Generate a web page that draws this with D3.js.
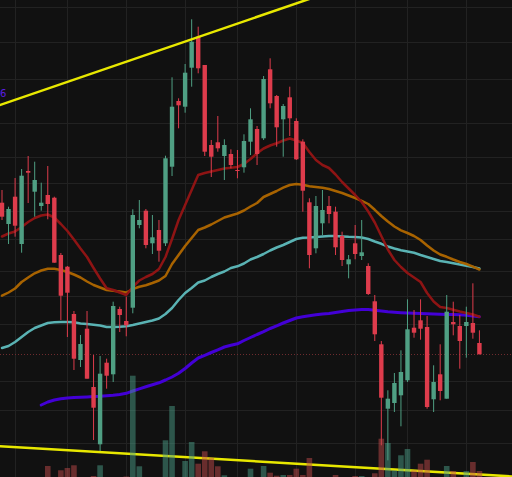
<!DOCTYPE html>
<html>
<head>
<meta charset="utf-8">
<script src="https://cdn.jsdelivr.net/npm/d3@7"></script>
<style>
  html, body { margin: 0; padding: 0; background: #111111; overflow: hidden; }
  svg { display: block; }
</style>
</head>
<body>
<div class="chart"></div>
<script>
// D3 Candlestick chart with moving averages, volume and trend lines

// Data (one entry per candle)
var opens = [29.73, 27.6, 30.33, 25.6, 32.9, 30.83, 29.4, 30.5, 30.23, 24.5, 23.33, 18.6, 14.0, 17.13, 11.3, 5.57, 13.73, 12.57, 19.1, 17.9,
  19.23, 27.5, 28.93, 25.67, 27.0, 25.67, 33.33, 39.9, 39.33, 43.23, 46.33, 43.5, 35.5, 35.77, 34.4, 34.6, 33.0, 33.27, 35.83, 37.1,
  36.17, 43.07, 40.4, 38.07, 40.27, 37.9, 35.83, 29.77, 25.17, 27.67, 29.4, 28.83, 26.4, 23.57, 25.67, 24.4, 23.4, 19.87, 15.57, 9.13,
  9.7, 10.47, 11.97, 17.23, 17.97, 17.3, 10.07, 12.57, 10.13, 17.8, 17.4, 17.4, 17.7, 15.7];
var highs = [31.0, 29.33, 32.2, 33.1, 34.4, 33.83, 31.73, 33.4, 30.33, 24.7, 23.4, 18.9, 16.5, 18.9, 14.5, 14.4, 14.13, 19.83, 19.33, 20.33,
  29.07, 30.0, 29.1, 28.5, 28.0, 34.43, 42.27, 40.17, 43.6, 48.07, 47.33, 43.5, 36.0, 38.4, 36.07, 35.07, 35.0, 36.57, 39.17, 37.4,
  42.4, 44.17, 40.5, 39.6, 41.33, 38.17, 36.07, 30.17, 30.4, 31.0, 30.4, 29.33, 26.83, 24.5, 27.5, 28.0, 23.67, 20.5, 15.9, 10.97,
  12.7, 14.97, 20.07, 19.0, 20.07, 18.4, 13.47, 15.57, 20.5, 19.83, 18.5, 19.33, 21.67, 16.97];
var lows = [28.0, 25.6, 26.33, 24.73, 29.7, 28.33, 28.93, 28.07, 23.73, 18.0, 16.3, 13.0, 13.3, 12.13, 6.0, 4.8, 11.13, 11.8, 16.8, 16.37,
  18.67, 27.17, 25.17, 24.6, 23.83, 25.4, 32.4, 37.17, 38.73, 41.33, 42.67, 34.4, 32.3, 34.83, 32.0, 33.17, 32.17, 32.73, 34.5, 33.5,
  36.0, 39.17, 35.33, 34.33, 36.4, 34.0, 28.83, 23.17, 24.67, 26.5, 27.67, 24.5, 23.4, 22.17, 24.07, 24.0, 20.5, 15.9, 5.47, 3.97,
  8.8, 7.37, 11.8, 16.23, 16.03, 9.13, 8.8, 9.97, 10.13, 16.47, 13.13, 14.23, 16.13, 14.57];
var closes = [28.33, 29.1, 27.43, 32.43, 32.73, 32.0, 29.73, 29.6, 23.73, 20.43, 20.73, 14.13, 15.6, 12.13, 9.23, 12.63, 12.43, 19.4, 18.5, 17.47,
  28.5, 28.0, 25.5, 26.27, 24.93, 34.17, 39.33, 39.47, 42.73, 45.83, 43.17, 34.83, 34.33, 35.17, 35.5, 33.5, 32.9, 35.9, 38.07, 34.6,
  42.1, 39.67, 37.27, 39.4, 38.17, 34.07, 30.93, 24.5, 29.4, 29.0, 28.6, 25.27, 24.0, 24.07, 24.6, 24.77, 20.6, 16.57, 10.23, 10.13,
  11.7, 12.8, 17.07, 16.73, 17.13, 9.3, 11.8, 10.9, 18.83, 17.57, 15.9, 17.8, 16.73, 14.57];
var volumes = [9, 7, 10, 8, 6, 9, 11, 24, 12, 19.7, 22, 24.7, 10, 12, 14, 24.7, 8, 11, 7, 13.5,
  114.3, 23.7, 10, 8, 9, 49.7, 84, 11, 29, 48, 26.3, 38.7, 32.3, 23.7, 14.7, 10, 9, 11, 21.3, 10,
  24, 17.3, 14.3, 15, 15, 21.3, 15, 32, 11, 9, 12, 15, 10, 8, 14, 14, 10, 16.7, 51.3, 47,
  19.7, 34.7, 41, 19.7, 26.3, 30.3, 11, 12, 24, 19, 12, 19, 28, 19];

// Moving averages
var maRed = [26.35, 26.65, 26.85, 27.3, 27.8, 28.2, 28.45, 28.55, 28.25, 27.6, 26.9, 26.05, 25.15, 24.3, 23.2, 22.15, 21.17, 21.0, 20.75, 20.5,
  21.3, 21.95, 22.3, 22.6, 23.1, 24.3, 26.1, 28.0, 29.5, 31.0, 32.5, 32.7, 32.85, 33.0, 33.15, 33.22, 33.3, 33.6, 34.1, 34.67,
  35.15, 35.45, 35.67, 35.95, 36.15, 35.95, 35.7, 34.8, 34.0, 33.5, 33.2, 32.55, 31.8, 31.15, 30.5, 29.8, 28.85, 27.75, 26.4, 25.05,
  24.0, 23.3, 22.7, 22.25, 21.8, 20.7, 19.85, 19.3, 19.2, 19.02, 18.85, 18.7, 18.55, 18.33];
var maOrange = [20.43, 20.75, 21.15, 21.8, 22.25, 22.67, 22.95, 23.13, 23.12, 23.0, 22.8, 22.55, 22.25, 21.85, 21.5, 21.25, 21.0, 20.93, 20.85, 20.75,
  21.1, 21.33, 21.48, 21.7, 21.95, 22.4, 23.6, 24.5, 25.4, 26.2, 27.0, 27.25, 27.55, 27.9, 28.25, 28.45, 28.65, 28.95, 29.35, 29.7,
  30.3, 30.6, 30.9, 31.23, 31.5, 31.6, 31.52, 31.37, 31.3, 31.23, 31.1, 30.9, 30.7, 30.45, 30.2, 29.92, 29.6, 29.02, 28.4, 27.85,
  27.35, 26.97, 26.7, 26.4, 26.0, 25.45, 24.95, 24.55, 24.32, 24.05, 23.8, 23.6, 23.33, 23.05];
var maTeal = [15.2, 15.4, 15.8, 16.3, 16.8, 17.2, 17.45, 17.7, 17.77, 17.8, 17.8, 17.77, 17.66, 17.6, 17.52, 17.45, 17.3, 17.3, 17.32, 17.37,
  17.5, 17.65, 17.8, 17.95, 18.15, 18.6, 19.2, 20.0, 20.7, 21.2, 21.75, 21.95, 22.3, 22.6, 22.85, 23.2, 23.37, 23.65, 24.05, 24.3,
  24.6, 24.95, 25.25, 25.5, 25.8, 26.1, 26.22, 26.25, 26.3, 26.35, 26.4, 26.4, 26.36, 26.32, 26.3, 26.25, 26.1, 25.85, 25.62, 25.35,
  25.15, 24.98, 24.85, 24.72, 24.5, 24.3, 24.1, 23.9, 23.8, 23.68, 23.55, 23.43, 23.3, 23.15];
var maPurple = [null, null, null, null, null, null, 9.5, 9.8, 10.0, 10.12, 10.2, 10.24, 10.28, 10.31, 10.34, 10.37, 10.42, 10.47, 10.55, 10.67,
  10.9, 11.12, 11.33, 11.53, 11.72, 12.0, 12.3, 12.68, 13.15, 13.7, 14.2, 14.47, 14.75, 15.02, 15.3, 15.47, 15.62, 15.95, 16.25, 16.55,
  16.83, 17.15, 17.42, 17.7, 17.95, 18.2, 18.32, 18.43, 18.52, 18.6, 18.66, 18.75, 18.85, 18.95, 19.0, 19.05, 19.05, 18.98, 18.9, 18.82,
  18.77, 18.73, 18.7, 18.68, 18.65, 18.62, 18.6, 18.58, 18.56, 18.54, 18.52, 18.48, 18.4, 18.33];

// Trend lines as [candle index, price]
var upperTrend = [[-1, 39.34], [50, 50.78]];
var lowerTrend = [[-1, 5.4], [80, 2.28]];
var dottedLevel = 14.6;
var maLabel = "6";

// Grid positions
var priceGrid = [49.3, 45.8, 42.1, 37.7, 34.3, 31.7, 28.9, 26.1, 22.9, 20.4, 17.6, 11.9, 9.0, 5.7];
var dayGrid = [2, 10, 19, 28, 36, 45, 54, 62, 71];

// Chart dimensions
var svgWidth = 512;
var svgHeight = 477;
var step = 6.54;
var bodyWidth = 4.4;
var volWidth = 5.6;

var upColor = "#4f9f83";
var downColor = "#de3c4c";

var svg = d3.select(".chart")
  .append("svg")
  .attr("width", svgWidth)
  .attr("height", svgHeight);

svg.append("rect")
  .attr("width", svgWidth)
  .attr("height", svgHeight)
  .attr("fill", "#111111");

// Scales
var xScale = d3.scaleLinear()
  .domain([0, 1])
  .range([2, 2 + step]);

var yScale = d3.scaleLinear()
  .domain([2.3, 50])
  .range([svgHeight, 0]);

var volScale = d3.scaleLinear()
  .domain([0, 130])
  .range([490, 360]);

var candles = opens.map(function(o, i) {
  return { i: i, open: o, high: highs[i], low: lows[i], close: closes[i], volume: volumes[i], up: closes[i] >= o };
});

// Step 1: grid
var grid = svg.append("g");
grid.selectAll(".hgrid")
  .data(priceGrid)
  .enter()
  .append("line")
  .attr("x1", 0)
  .attr("x2", svgWidth)
  .attr("y1", d => Math.round(yScale(d)) + 0.5)
  .attr("y2", d => Math.round(yScale(d)) + 0.5)
  .attr("stroke", "#222222")
  .attr("stroke-width", 1);

grid.selectAll(".vgrid")
  .data(dayGrid)
  .enter()
  .append("line")
  .attr("x1", d => Math.round(xScale(d)) + 0.5)
  .attr("x2", d => Math.round(xScale(d)) + 0.5)
  .attr("y1", 0)
  .attr("y2", svgHeight)
  .attr("stroke", "#222222")
  .attr("stroke-width", 1);

// dotted level line
svg.append("line")
  .attr("x1", 0)
  .attr("x2", svgWidth)
  .attr("y1", Math.round(yScale(dottedLevel)) + 0.5)
  .attr("y2", Math.round(yScale(dottedLevel)) + 0.5)
  .attr("stroke", "#6e2b2e")
  .attr("stroke-width", 1)
  .attr("stroke-dasharray", "1,2");

// Step 2: moving averages
var maLine = d3.line()
  .defined(d => d !== null)
  .x((d, i) => xScale(i))
  .y(d => yScale(d));

var maSeries = [
  { values: maPurple, color: "#4300d6", width: 3 },
  { values: maTeal, color: "#5ab3b4", width: 2.5 },
  { values: maOrange, color: "#a86300", width: 2.5 },
  { values: maRed, color: "#8e1414", width: 2.5 }
];

svg.selectAll(".ma")
  .data(maSeries)
  .enter()
  .append("path")
  .attr("d", d => maLine(d.values))
  .attr("fill", "none")
  .attr("stroke", d => d.color)
  .attr("stroke-width", d => d.width)
  .attr("stroke-linejoin", "round")
  .attr("stroke-linecap", "round");

// Step 3: candles
var candleGroup = svg.append("g");

candleGroup.selectAll(".wick")
  .data(candles)
  .enter()
  .append("line")
  .attr("x1", d => xScale(d.i))
  .attr("x2", d => xScale(d.i))
  .attr("y1", d => yScale(d.high))
  .attr("y2", d => yScale(d.low))
  .attr("stroke", d => d.up ? upColor : downColor)
  .attr("stroke-width", 1);

candleGroup.selectAll(".body")
  .data(candles)
  .enter()
  .append("rect")
  .attr("x", d => xScale(d.i) - bodyWidth / 2)
  .attr("y", d => yScale(Math.max(d.open, d.close)))
  .attr("width", bodyWidth)
  .attr("height", d => Math.max(1, Math.abs(yScale(d.open) - yScale(d.close))))
  .attr("fill", d => d.up ? upColor : downColor);

// Step 4: trend lines
var trendLine = d3.line()
  .x(d => xScale(d[0]))
  .y(d => yScale(d[1]));

svg.selectAll(".trend")
  .data([upperTrend, lowerTrend])
  .enter()
  .append("path")
  .attr("d", d => trendLine(d))
  .attr("fill", "none")
  .attr("stroke", "#e8e800")
  .attr("stroke-width", 2.5);

// Step 5: volume bars
svg.append("g")
  .selectAll("rect")
  .data(candles)
  .enter()
  .append("rect")
  .attr("x", d => xScale(d.i) - volWidth / 2)
  .attr("y", d => volScale(d.volume))
  .attr("width", volWidth)
  .attr("height", d => volScale(0) - volScale(d.volume))
  .attr("fill", d => d.up ? "#4a9c86" : "#c04a4a")
  .attr("opacity", 0.5);

// label
svg.append("text")
  .attr("x", 0)
  .attr("y", 97)
  .attr("fill", "#5a1ee0")
  .attr("font-family", "DejaVu Sans, sans-serif")
  .attr("font-size", "10px")
  .text(maLabel);
</script>
</body>
</html>
